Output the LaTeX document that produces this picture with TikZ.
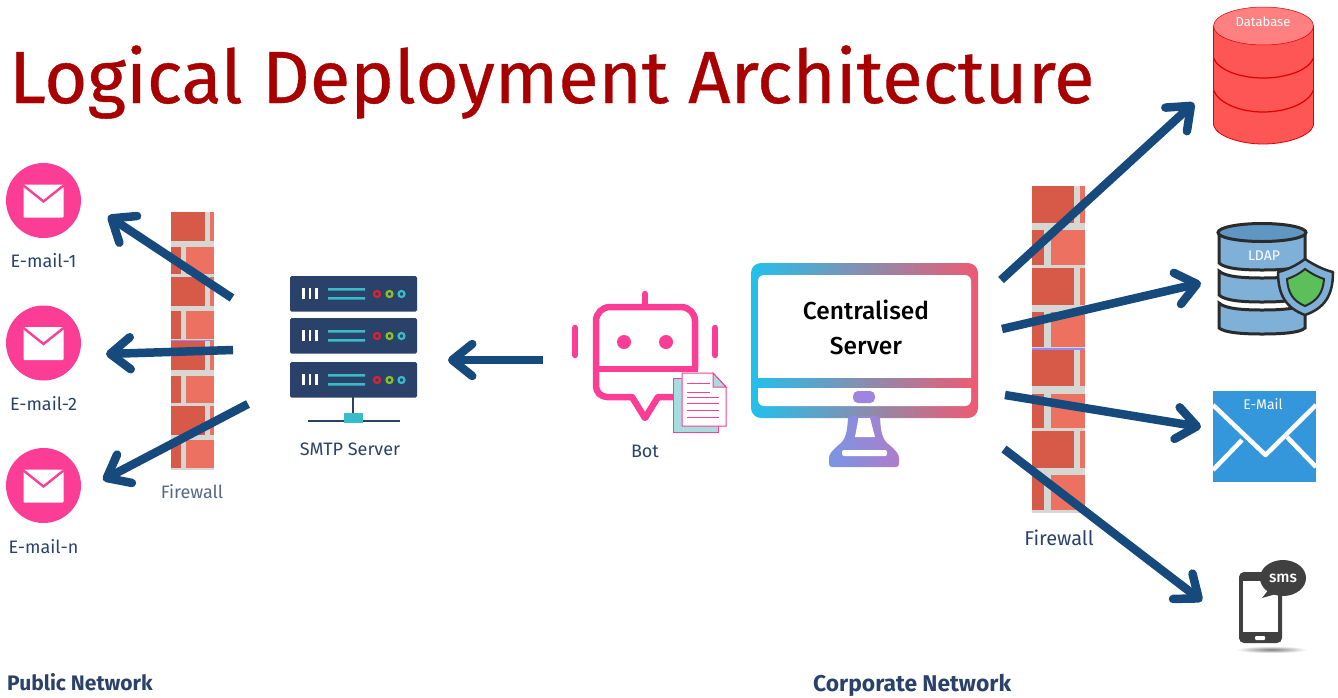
\documentclass[tikz,border=0pt]{standalone}
\usepackage{fontspec}
\setmainfont{Fira Sans}
\newfontfamily\titlefont[FakeBold=0.5]{Fira Sans}
\newfontfamily\mediumfont{Fira Sans Medium}
\usetikzlibrary{arrows.meta,positioning,shapes.geometric}
\definecolor{navyText}{HTML}{2A4269}
\definecolor{arrowBlue}{HTML}{174A7C}
\definecolor{mailPink}{HTML}{FB3D96}
\definecolor{titleRed}{HTML}{A80000}
\definecolor{brickDark}{HTML}{D65A47}
\definecolor{brickLight}{HTML}{EC7160}
\definecolor{mortar}{HTML}{D6D6D2}
\definecolor{dbTop}{HTML}{FE8080}
\definecolor{dbBody}{HTML}{FE5555}
\definecolor{dbBand}{HTML}{E00000}
\definecolor{ldapBody}{HTML}{7FB0D8}
\definecolor{ldapTop}{HTML}{5F97C2}
\definecolor{iconDark}{HTML}{2B2B2B}
\definecolor{envBlue}{HTML}{3497DB}
\definecolor{screenCyan}{HTML}{22C0EC}
\definecolor{screenPurple}{HTML}{9F84E0}
\definecolor{screenRed}{HTML}{EE5A72}
\definecolor{rackTeal}{HTML}{38BCC8}
\definecolor{rackRed}{HTML}{E0202E}
\definecolor{rackGreen}{HTML}{8CC21F}
\definecolor{docTeal}{HTML}{A8DDE0}
\definecolor{shieldGreen}{HTML}{5CC05A}

% brick wall, 43 x 258 before scaling
\newcommand{\brickwall}[4]{
	\begin{scope}[shift={(#1,#2)},xscale=#3,yscale=#4]
		\fill[mortar] (0,0) rectangle (43,258);
		\foreach \row in {0,2,4,6} {
			\fill[brickDark] (0,{\row*32.25}) rectangle (34,{\row*32.25+29});
			\fill[brickLight] (39,{\row*32.25}) rectangle (43,{\row*32.25+29});
		}
		\foreach \row in {1,3,5,7} {
			\fill[brickDark] (0,{\row*32.25+2.5}) rectangle (10,{\row*32.25+30});
			\fill[brickLight] (15,{\row*32.25+2.5}) rectangle (43,{\row*32.25+30});
		}
		\fill[white!55!blue] (0,127.5) rectangle (43,129);
	\end{scope}
}
% envelope inside a pink circle
\newcommand{\mailglyph}[1]{
	\begin{scope}[shift={(#1)}]
		\fill[white,rounded corners=1pt] (-20,-16) rectangle (20,17);
		\draw[mailPink,line width=2.4pt] (-20,-15) -- (0,1) -- (20,-15);
	\end{scope}
}
% one unit of the server rack
\newcommand{\rackunit}[1]{
	\begin{scope}[shift={(290,#1)}]
		\fill[navyText,rounded corners=1.5pt] (0,0) rectangle (127,35.5);
		\foreach \barx in {12,18.5,25}
			\fill[white] (\barx,12) rectangle ({\barx+2.6},23);
		\fill[rackTeal] (38,12) rectangle (75,14.5) (38,21) rectangle (75,23.5);
		\draw[rackRed,line width=2.2pt] (87,18) circle[radius=3];
		\draw[rackGreen,line width=2.2pt] (99.5,18) circle[radius=3];
		\draw[rackTeal,line width=2.2pt] (111.5,18) circle[radius=3];
	\end{scope}
}

\begin{document}
\begin{tikzpicture}
	[ x=1pt,y=-1pt,
		caption/.style={text=navyText,font=\fontsize{18}{21}\selectfont,inner sep=0pt},
		netLabel/.style={text=navyText,font=\fontsize{21}{24}\selectfont\bfseries,inner sep=0pt},
		mailCircle/.style={circle,fill=mailPink,minimum size=75pt,inner sep=0pt},
		onIcon/.style={text=white,font=\fontsize{12.5}{15}\selectfont,inner sep=0pt},
		arrowOut/.style={line width=8.5pt,arrowBlue,-{Straight Barb[round,length=20pt,width=32pt]}}]

	\useasboundingbox (0,0) rectangle (1338,697);

	\node[anchor=base west,inner sep=0pt,text=titleRed,font=\fontsize{74}{90}\titlefont] (title) at (9,103) {Logical Deployment Architecture};

	% walls
	\brickwall{171}{212}{1}{1}
	\brickwall{1032}{186}{1.2326}{1.2674}
	\node[text=navyText!80,font=\fontsize{18}{21}\selectfont,inner sep=0pt] (firewall left) at (192,492) {Firewall};
	\node[caption,font=\fontsize{20}{24}\selectfont] (firewall right) at (1059,538) {Firewall};

	% public side
	\node[mailCircle] (mail one) at (43.5,200.5) {};
	\node[mailCircle] (mail two) at (43.5,343) {};
	\node[mailCircle] (mail n) at (43.5,485.5) {};
	\mailglyph{mail one}
	\mailglyph{mail two}
	\mailglyph{mail n}
	\node[caption] (mail one text) [below=15pt of mail one] {E-mail-1};
	\node[caption] (mail two text) [below=16pt of mail two] {E-mail-2};
	\node[caption] (mail n text) [below=16pt of mail n] {E-mail-n};

	% smtp server
	\rackunit{276}
	\rackunit{318}
	\rackunit{362}
	\draw[navyText,line width=2.5pt] (353,397) -- (353,420) (308,421) -- (400,421);
	\fill[rackTeal] (344,413) rectangle (363,423);
	\node[caption] (smtp text) at (350,449) {SMTP Server};

	% bot
	\draw[mailPink,line width=6.5pt,rounded corners=14pt] (596,369) -- (596,307) -- (695,307) -- (695,369);
	\draw[mailPink,line width=6.5pt] (593,369) -- (698,369);
	\draw[mailPink,line width=6.5pt,line join=round,rounded corners=11pt] (596,369) -- (596,397) -- (632,397);
	\draw[mailPink,line width=6.5pt,line join=round,line cap=round] (632,397) -- (645,418) -- (658,397) -- (680,397);
	\draw[mailPink,line width=6.5pt,line cap=round] (645,294) -- (645,304) (575,328) -- (575,355) (715,328) -- (715,355);
	\fill[mailPink] (624,342) circle[radius=7] (666,342) circle[radius=7];
	\draw[mailPink,line width=1pt,fill=docTeal] (673.5,378) rectangle (718,432);
	\draw[mailPink,line width=1pt,fill=white] (682,373) -- (713,373) -- (726,387) -- (726,426) -- (682,426) -- cycle;
	\draw[mailPink,line width=1pt,fill=docTeal] (713,373) -- (713,387) -- (726,387) -- cycle;
	\foreach \liney in {383,392} \draw[mailPink,line width=1pt] (687,\liney) -- (710,\liney);
	\foreach \liney in {397,403,410,417} \draw[mailPink,line width=1pt] (687,\liney) -- (719,\liney);
	\node[caption] (bot text) at (645,451) {Bot};

	% centralised server
	\path[left color=screenCyan,middle color=screenPurple,right color=screenRed,rounded corners=10pt] (751,263) rectangle (978,418);
	\path[left color=screenPurple!70!screenCyan,right color=screenPurple!80!screenRed,rounded corners=3pt] (848,416) .. controls (847,440) and (842,442) .. (835,448) -- (829,455) -- (829,467) -- (899,467) -- (899,455) -- (893,448) .. controls (886,442) and (881,440) .. (880,416) -- cycle;
	\begin{scope}
		\clip (758,275) rectangle (971,377);
		\fill[white,rounded corners=6pt] (758,275) rectangle (971,400);
	\end{scope}
	\begin{scope}
		\clip (758,388) rectangle (971,406);
		\fill[white,rounded corners=6pt] (758,360) rectangle (971,406);
	\end{scope}
	\fill[screenPurple,rounded corners=5pt] (853,391) rectangle (875,403);
	\fill[white] (858.5,418) -- (870,418) -- (875,437) -- (855,437) -- cycle;
	\fill[white,rounded corners=2pt] (842,450) rectangle (887,456);
	\node[font=\fontsize{24.5}{35}\mediumfont,align=center,inner sep=0pt] (server text) at (866,327) {Centralised\\Server};

	% database
	\path[fill=dbBody,draw=dbBand,line width=.8pt] (1213.5,26) -- (1213.5,125) .. controls (1216,136) and (1240,144) .. (1263,144) .. controls (1287,144) and (1311,136) .. (1313.5,125) -- (1313.5,26) -- cycle;
	\draw[dbBand,line width=1.2pt] (1213.5,58) .. controls (1218,70) and (1240,78) .. (1263,78) .. controls (1287,78) and (1309,70) .. (1313.5,58);
	\draw[dbBand,line width=1.2pt] (1213.5,90) .. controls (1218,103) and (1240,112) .. (1263,112) .. controls (1287,112) and (1309,103) .. (1313.5,90);
	\node[ellipse,fill=dbTop,draw=dbBand,line width=.5pt,minimum width=100pt,minimum height=38pt,inner sep=0pt] (database) at (1263.5,26) {};
	\node[onIcon,font=\fontsize{13}{15}\selectfont] (database text) at (1263,22) {Database};

	% ldap
	\draw[iconDark,line width=3pt,fill=ldapBody] (1219,232) -- (1219,263) .. controls (1225,269) and (1245,270) .. (1262,270) .. controls (1280,270) and (1300,269) .. (1305,263) -- (1305,232) -- cycle;
	\draw[iconDark,line width=3pt,fill=ldapBody] (1219,271) .. controls (1225,277) and (1245,278) .. (1262,278) .. controls (1280,278) and (1300,277) .. (1305,271) -- (1305,295) .. controls (1300,301) and (1280,302) .. (1262,302) .. controls (1245,302) and (1225,301) .. (1219,295) -- cycle;
	\draw[iconDark,line width=3pt,fill=ldapBody] (1219,303) .. controls (1225,309) and (1245,310) .. (1262,310) .. controls (1280,310) and (1300,309) .. (1305,303) -- (1305,328) .. controls (1300,333) and (1280,334) .. (1262,334) .. controls (1245,334) and (1225,333) .. (1219,328) -- cycle;
	\node[ellipse,fill=ldapTop,draw=iconDark,line width=3pt,minimum width=88pt,minimum height=18pt,inner sep=0pt] (ldap) at (1262,232.5) {};
	\node[onIcon,font=\fontsize{14}{17}\selectfont] (ldap text) at (1264,256) {LDAP};
	\draw[iconDark,line width=2.5pt,fill=ldapBody,line join=round] (1305,259) .. controls (1314,265) and (1324,270) .. (1333,272) .. controls (1333,295) and (1325,308) .. (1305,315) .. controls (1286,308) and (1278,295) .. (1278,272) .. controls (1287,270) and (1297,265) .. (1305,259) -- cycle;
	\draw[iconDark,line width=2pt,fill=shieldGreen] (1305,269) .. controls (1312,274) and (1318,277) .. (1324,279) .. controls (1323,293) and (1317,301) .. (1305,306) .. controls (1293,301) and (1288,293) .. (1287,279) .. controls (1293,277) and (1299,274) .. (1305,269) -- cycle;

	% e-mail
	\node[fill=envBlue,minimum width=103pt,minimum height=91pt,inner sep=0pt] (email) at (1264.5,436.5) {};
	\draw[white,line width=4.5pt,line join=round] (1213,405) -- (1265.5,455) -- (1316,405);
	\draw[white,line width=4.5pt] (1213,470) -- (1242,440) (1287,437) -- (1316,467);
	\node[onIcon,font=\fontsize{14}{17}\selectfont] (email text) at (1263,404) {E-Mail};

	% sms
	\shade[inner color=black!50,outer color=white] (1236,646) rectangle (1307,653);
	\fill[iconDark!90,rounded corners=5pt] (1239,572) rectangle (1282,643);
	\fill[white] (1243,581) rectangle (1278,632);
	\fill[white,rounded corners=1pt] (1255,636) rectangle (1265,640);
	\fill[iconDark!90] (1262,598) -- (1270,588) -- (1276,594) -- cycle;
	\node[ellipse,fill=iconDark!90,minimum width=46pt,minimum height=36pt,inner sep=0pt,text=white,font=\fontsize{15.5}{18}\mediumfont] (sms) at (1283,578) {sms};

	% network labels
	\node[netLabel,anchor=west] (public net) at (7,682.5) {Public Network};
	\node[netLabel,anchor=west,font=\fontsize{22.8}{26}\selectfont\bfseries] (corporate net) at (813,685) {Corporate Network};

	% arrow ends
	\coordinate (smtp out one) at (232,298);
	\coordinate (smtp out two) at (233,350);
	\coordinate (smtp out three) at (248,404);
	\coordinate (mail one in) at (108,216);
	\coordinate (mail two in) at (106,354);
	\coordinate (mail n in) at (103,480);
	\coordinate (bot out) at (543,360);
	\coordinate (smtp in) at (448,360);
	\coordinate (server out one) at (1001,280);
	\coordinate (server out two) at (1002,329);
	\coordinate (server out three) at (1005,395);
	\coordinate (server out four) at (1004,449);
	\coordinate (database in) at (1194,103);
	\coordinate (ldap in) at (1201,283);
	\coordinate (email in) at (1201,427);
	\coordinate (sms in) at (1202,601);

	\draw[arrowOut] (smtp out one) -- (mail one in);
	\draw[arrowOut] (smtp out two) -- (mail two in);
	\draw[arrowOut] (smtp out three) -- (mail n in);
	\draw[arrowOut] (bot out) -- (smtp in);
	\draw[arrowOut] (server out one) -- (database in);
	\draw[arrowOut] (server out two) -- (ldap in);
	\draw[arrowOut] (server out three) -- (email in);
	\draw[arrowOut] (server out four) -- (sms in);
\end{tikzpicture}
\end{document}
